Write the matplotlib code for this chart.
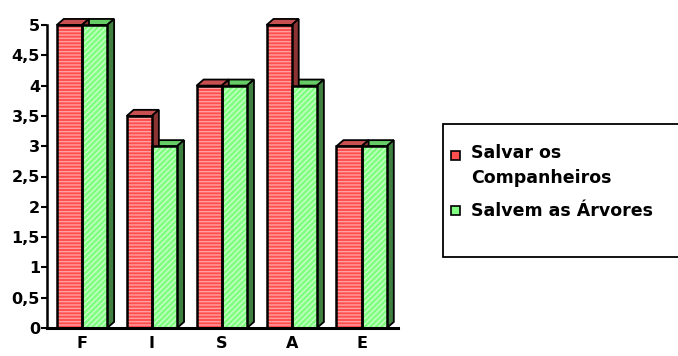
import matplotlib
matplotlib.use("Agg")
import matplotlib.pyplot as plt
from matplotlib.patches import Rectangle, Polygon

plt.rcParams['font.family'] = ['DejaVu Sans']

categories = ['F', 'I', 'S', 'A', 'E']
salvar = [5, 3.5, 4, 5, 3]
salvem = [5, 3, 4, 4, 3]
series_names = [['Salvar os', 'Companheiros'], ['Salvem as Árvores']]
yticks = [0, 0.5, 1, 1.5, 2, 2.5, 3, 3.5, 4, 4.5, 5]

W, H = 678, 356
fig = plt.figure(figsize=(W / 100, H / 100), dpi=100)
ax = fig.add_axes([47 / W, 28 / H, (398 - 47) / W, (328 - 25) / H])
ax.set_xlim(-0.5, 4.52)
ax.set_ylim(0, 5)

bw = 0.36
dx, dy = 0.1, 0.1

styles = [
    dict(face='#ff4f4f', hatch_col='#ffa0a0', hatch='-----', top='#c85050', side='#8c3434'),
    dict(face='#80ff80', hatch_col='#c8ffc8', hatch='//////', top='#66cc66', side='#3f7f3f'),
]


def bar3d(x, h, st):
    # front face
    ax.add_patch(Rectangle((x, 0), bw, h, facecolor=st['face'], edgecolor='none', zorder=2, clip_on=False))
    ax.add_patch(Rectangle((x, 0), bw, h, facecolor='none', edgecolor=st['hatch_col'],
                           hatch=st['hatch'], linewidth=0, zorder=2, clip_on=False))
    ax.add_patch(Rectangle((x, 0), bw, h, facecolor='none', edgecolor='black', linewidth=1.8,
                           zorder=3, clip_on=False))
    # top and side
    ax.add_patch(Polygon([(x, h), (x + dx, h + dy), (x + bw + dx, h + dy), (x + bw, h)],
                         closed=True, facecolor=st['top'], edgecolor='black', linewidth=1.3,
                         zorder=1, clip_on=False))
    ax.add_patch(Polygon([(x + bw, 0), (x + bw + dx, dy), (x + bw + dx, h + dy), (x + bw, h)],
                         closed=True, facecolor=st['side'], edgecolor='black', linewidth=1.3,
                         zorder=1, clip_on=False))


for i in range(len(categories)):
    # green drawn first so the red front covers it
    bar3d(i, salvem[i], styles[1])
    bar3d(i - bw, salvar[i], styles[0])

for s in ['top', 'right']:
    ax.spines[s].set_visible(False)
ax.spines['left'].set_linewidth(1.8)
ax.spines['bottom'].set_linewidth(2.2)
ax.spines['bottom'].set_zorder(4)
ax.set_yticks(yticks)
ax.set_yticklabels([('%g' % v).replace('.', ',') for v in yticks],
                   fontsize=11.5, fontweight='bold')
ax.set_xticks(range(len(categories)))
ax.set_xticklabels(categories, fontsize=11.5, fontweight='bold')
ax.tick_params(axis='y', length=4, width=1.5, pad=1)
ax.tick_params(axis='x', length=0, pad=6)
ax.patch.set_alpha(0)

# legend box
fig.patches.append(Rectangle((443 / W, (H - 257) / H), 240 / W, 133 / H, transform=fig.transFigure,
                             facecolor='white', edgecolor='black', linewidth=1.3))
for lines, st, sq_top, baselines in zip(series_names, styles, [151, 206], [[158, 183], [216]]):
    fig.patches.append(Rectangle((451 / W, (H - sq_top - 9) / H), 9 / W, 9 / H,
                                 transform=fig.transFigure, facecolor=st['face'],
                                 edgecolor='black', linewidth=1.2))
    for line, b in zip(lines, baselines):
        fig.text(471 / W, (H - b) / H, line, fontsize=12.5, fontweight='bold',
                 va='baseline', ha='left')

fig.savefig('out.png', dpi=100)
